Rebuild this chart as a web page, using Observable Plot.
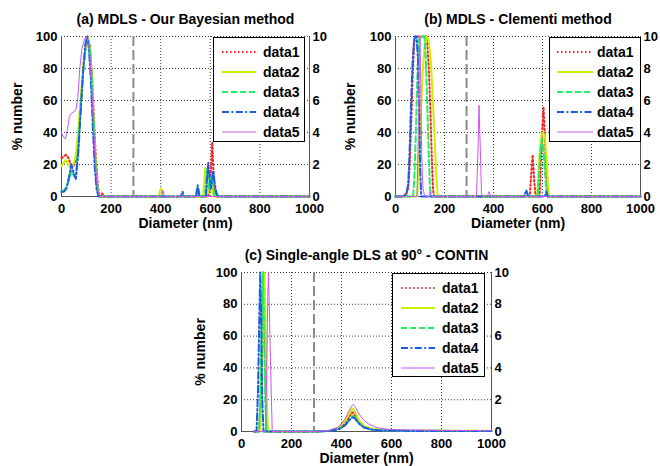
<!DOCTYPE html>
<html><head><meta charset="utf-8">
<script src="https://cdn.jsdelivr.net/npm/d3@7"></script>
<script src="https://cdn.jsdelivr.net/npm/@observablehq/plot@0.6"></script>
<style>
body{margin:0;background:#fff;}
#wrap{position:relative;width:660px;height:466px;background:#fff;overflow:hidden;font-family:"Liberation Sans",Arial,sans-serif;font-weight:bold;}
#wrap svg{position:absolute;}
</style></head><body><div id="wrap"></div>
<script>
// ---------- data ----------
const seriesNames = ["data1", "data2", "data3", "data4", "data5"];
const xTicks = [0, 200, 400, 600, 800, 1000];
const yTicks = [0, 20, 40, 60, 80, 100];
const xGrid = [200, 400, 600, 800];
const yGrid = [20, 40, 60, 80, 100];
const cutoff = [290];
const titles = ["(a) MDLS - Our Bayesian method", "(b) MDLS - Clementi method", "(c) Single-angle DLS at 90\u00b0 - CONTIN"];

// Panel (a): [diameter, % number]
const a1 = [[0,24],[8,25],[18,26],[28,24],[38,20],[48,19],[58,22],[68,35],[78,58],[88,80],[98,95],[106,99],[114,94],[122,78],[130,52],[138,25],[146,8],[152,1],[158,0],[164,2],[170,0],[590,0],[598,4],[604,20],[608,34],[612,18],[618,3],[624,0],[1000,0]];
const a2 = [[0,19],[8,21],[18,23],[28,20],[38,17],[48,20],[58,26],[68,42],[78,62],[88,82],[98,95],[106,100],[114,93],[122,75],[130,45],[138,18],[146,4],[152,0],[392,0],[398,4],[402,5],[407,0],[570,0],[576,10],[580,18],[585,8],[590,2],[598,8],[604,12],[610,2],[616,0],[1000,0]];
const a3 = [[0,3],[10,4],[20,6],[30,10],[40,16],[50,13],[58,14],[68,32],[78,58],[88,80],[98,93],[106,99],[114,94],[122,76],[130,46],[138,18],[146,4],[154,0],[545,0],[552,5],[559,0],[578,0],[584,10],[588,17],[594,5],[600,8],[606,14],[612,5],[618,0],[1000,0]];
const a4 = [[0,3],[10,3],[20,5],[30,12],[40,20],[50,14],[58,11],[68,28],[78,55],[88,80],[96,95],[103,100],[110,93],[118,74],[126,45],[134,18],[142,4],[150,0],[482,0],[488,3],[494,0],[542,0],[549,7],[556,0],[582,0],[588,14],[592,21],[597,12],[602,5],[607,10],[612,16],[618,8],[625,2],[632,0],[1000,0]];
const a5 = [[0,40],[8,37],[16,36],[24,42],[32,50],[40,52],[50,53],[58,54],[66,62],[74,80],[82,92],[90,97],[98,100],[106,97],[114,88],[122,68],[130,42],[138,18],[146,4],[154,0],[403,0],[409,4],[415,0],[1000,0]];

// Panel (b)
const b1 = [[0,0],[30,0],[45,2],[52,5],[58,20],[64,45],[70,75],[76,95],[80,100],[128,100],[136,80],[142,55],[148,25],[153,5],[157,0],[548,0],[553,12],[560,26],[566,10],[572,0],[588,0],[594,25],[600,45],[604,56],[609,40],[615,15],[621,0],[1000,0]];
const b2 = [[0,0],[88,0],[96,25],[104,55],[112,80],[120,95],[128,100],[136,97],[144,85],[152,62],[160,35],[166,15],[172,0],[578,0],[584,15],[590,30],[596,38],[602,40],[610,38],[616,25],[622,8],[627,0],[1000,0]];
const b3 = [[0,0],[72,0],[78,15],[84,45],[90,80],[96,98],[100,100],[118,100],[124,85],[130,55],[136,25],[141,5],[145,0],[580,0],[586,15],[592,30],[598,36],[604,30],[610,15],[616,3],[620,0],[1000,0]];
const b4 = [[0,0],[35,0],[45,2],[52,8],[58,30],[64,60],[70,85],[76,98],[80,100],[86,100],[92,85],[97,50],[101,15],[105,0],[525,0],[534,4],[542,0],[610,0],[616,3],[622,0],[1000,0]];
const b5 = [[0,0],[40,0],[46,1],[52,0],[88,0],[93,40],[97,85],[100,100],[103,70],[107,25],[112,5],[118,1],[124,0],[136,0],[142,3],[148,0],[330,0],[336,25],[341,57],[346,30],[351,2],[356,0],[375,0],[382,3],[389,0],[1000,0]];

// Panel (c)
const c1 = [[50,0],[70,0],[76,20],[82,60],[87,100],[92,70],[97,20],[102,0],[300,0],[350,0.4],[390,2],[415,5],[430,9],[440,11.5],[446,12],[455,10],[470,6],[490,3],[520,1.5],[560,0.8],[650,0.5],[800,0.4],[1000,0.3]];
const c2 = [[50,0],[74,0],[80,20],[86,60],[92,100],[97,60],[102,15],[106,0],[300,0],[350,0.5],[390,2.5],[415,7],[430,11],[440,14],[446,14.5],[455,12],[470,7],[490,3.5],[520,1.8],[560,1],[650,0.6],[800,0.5],[1000,0.4]];
const c3 = [[50,0],[70,0],[76,25],[81,70],[86,100],[90,70],[95,20],[100,0],[300,0],[350,0.4],[390,1.5],[415,4],[430,7],[440,9.5],[446,10],[455,8.5],[470,5],[490,2.5],[520,1.2],[560,0.7],[650,0.5],[800,0.4],[1000,0.3]];
const c4 = [[50,0],[60,0],[66,25],[71,70],[75,100],[79,70],[83,20],[88,0],[300,0],[350,0.3],[390,1.5],[415,4],[430,7],[440,8.5],[447,9],[455,8],[470,5],[490,2.5],[520,1.2],[560,0.7],[650,0.4],[800,0.3],[1000,0.3]];
const c5 = [[50,0],[96,0],[101,40],[105,85],[108,100],[113,65],[118,30],[123,0],[300,0],[350,0.6],[390,3],[415,8],[430,13],[440,16],[447,17],[455,15.5],[470,11],[490,7],[510,4.5],[540,2.5],[580,1.5],[650,1],[800,0.7],[1000,0.5]];

// ---------- styles ----------
const colors = ["#ff1f1f", "#c8f000", "#22ee66", "#1a5ce6", "#cc55ee"];
const dashes = ["1.5,2.5", null, "6,3", "7,2.5,1.8,2.5", null];
const widths = [2, 2, 2, 2, 1];
const FONT = '"Liberation Sans", Arial, sans-serif';

const wrap = document.getElementById("wrap");

function makePanel(series, title, pos) {
  const marks = [
    Plot.gridX(xGrid, {stroke: "#000", strokeOpacity: 0.75, strokeDasharray: "1,2", strokeWidth: 1}),
    Plot.gridY(yGrid, {stroke: "#000", strokeOpacity: 0.75, strokeDasharray: "1,2", strokeWidth: 1}),
    Plot.ruleX(cutoff, {stroke: "#8a8a8a", strokeWidth: 2, strokeDasharray: "10,4"}),
    Plot.ruleX([0, 1000], {stroke: "#555", strokeWidth: 1}),
    Plot.ruleY([0], {stroke: "#555", strokeWidth: 1})
  ];
  series.forEach((s, i) => {
    marks.push(Plot.line(s, {x: d => d[0], y: d => d[1], stroke: colors[i], strokeWidth: widths[i], strokeDasharray: dashes[i]}));
  });
  marks.push(
    Plot.axisX(xTicks, {tickSize: 0, tickPadding: 7, label: null, tickFormat: d => String(d), fontSize: 13}),
    Plot.axisY(yTicks, {anchor: "left", tickSize: 0, tickPadding: 4, label: null, tickFormat: d => String(d), fontSize: 13}),
    Plot.axisY(yTicks, {anchor: "right", tickSize: 0, tickPadding: 3, label: null, tickFormat: d => String(d / 10), fontSize: 13}),
    Plot.text([title], {text: d => d, frameAnchor: "top", lineAnchor: "middle", textAnchor: "middle", dy: -17, fontSize: 14, fontWeight: "bold"}),
    Plot.text(["Diameter (nm)"], {text: d => d, frameAnchor: "bottom", lineAnchor: "middle", textAnchor: "middle", dy: 27, fontSize: 14, fontWeight: "bold"}),
    Plot.text(["% number"], {text: d => d, frameAnchor: "left", lineAnchor: "middle", textAnchor: "middle", dx: -pos.yl, rotate: -90, fontSize: 14, fontWeight: "bold"})
  );
  const svg = Plot.plot({
    width: pos.w, height: pos.h,
    marginLeft: pos.ml, marginRight: pos.mr, marginTop: pos.mt, marginBottom: pos.mb,
    x: {domain: [0, 1000]},
    y: {domain: [0, 100]},
    style: {fontFamily: FONT, fontWeight: "bold", fontSize: "13px", color: "#000", background: "transparent", overflow: "visible"},
    marks
  });
  svg.style.left = pos.left + "px";
  svg.style.top = pos.top + "px";
  wrap.appendChild(svg);
}

function makeLegend(left, top, w, h, lineX0, lineX1, textX) {
  const svg = d3.create("svg").attr("width", w).attr("height", h)
    .style("left", left + "px").style("top", top + "px");
  svg.append("rect").attr("x", 0.5).attr("y", 0.5).attr("width", w - 1).attr("height", h - 1)
    .attr("fill", "#fff").attr("stroke", "#000").attr("stroke-width", 1);
  seriesNames.forEach((n, i) => {
    const y = 15 + i * 20;
    svg.append("line").attr("x1", lineX0).attr("x2", lineX1).attr("y1", y).attr("y2", y)
      .attr("stroke", colors[i]).attr("stroke-width", widths[i])
      .attr("stroke-dasharray", dashes[i]);
    svg.append("text").attr("x", textX).attr("y", y).attr("dy", "0.35em")
      .attr("font-family", FONT).attr("font-weight", "bold").attr("font-size", 14).text(n);
  });
  wrap.appendChild(svg.node());
}

makePanel([a1, a2, a3, a4, a5], titles[0], {left: 0, top: 0, w: 330, h: 232, ml: 61, mr: 21, mt: 36, mb: 36, yl: 44});
makePanel([b1, b2, b3, b4, b5], titles[1], {left: 330, top: 0, w: 330, h: 232, ml: 65, mr: 20, mt: 36, mb: 36, yl: 45});
makePanel([c1, c2, c3, c4, c5], titles[2], {left: 180, top: 236, w: 330, h: 230, ml: 61, mr: 19, mt: 36, mb: 35, yl: 41});

makeLegend(213, 37, 92, 105, 9, 43, 50);
makeLegend(549, 37, 92, 105, 8, 44, 48);
makeLegend(392, 273, 93, 104, 9, 43, 50);
</script></body></html>
